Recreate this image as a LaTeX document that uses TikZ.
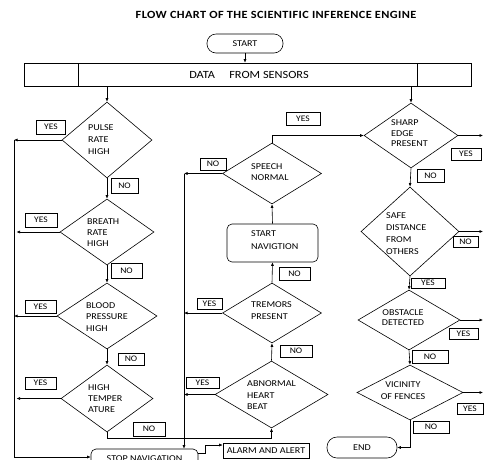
\documentclass[tikz,border=0pt]{standalone}
\usepackage{fontspec}
\setmainfont{Carlito}[FakeStretch=1.12]
\usetikzlibrary{arrows.meta,shapes.geometric}

\tikzset{
  arr/.style={-{Latex[length=3.5pt,width=3pt]}},
  conn/.style={line width=0.6pt},
  dia/.style={draw, diamond, line width=0.6pt, inner sep=0pt},
  lbl/.style={draw, line width=0.6pt, inner sep=0pt, font=\fontsize{8.5}{9}\selectfont},
  dtext/.style={font=\fontsize{9}{#1}\selectfont, align=left, anchor=west, inner sep=0pt},
  ctext/.style={font=\fontsize{9}{#1}\selectfont, align=center, inner sep=0pt},
  term/.style={draw, line width=0.6pt, rounded corners=9pt, inner sep=0pt, font=\fontsize{9}{10}\selectfont},
  procbox/.style={draw, line width=0.6pt, rounded corners=5pt, inner sep=0pt, font=\fontsize{9}{10}\selectfont},
}

\begin{document}
\begin{tikzpicture}[x=1pt, y=-1pt]
\useasboundingbox (0,0) rectangle (484,459);
\clip (0,0) rectangle (484,459);

% title
\node[font=\fontsize{11}{12}\selectfont\bfseries\addfontfeature{LetterSpace=3.5}] (title) at (276,15) {FLOW CHART OF THE SCIENTIFIC INFERENCE ENGINE};

% start and sensor bar
\node[term, minimum width=76, minimum height=19] (start) at (245,43.5) {START};
\node[draw, line width=0.6pt, minimum width=447, minimum height=23, inner sep=0pt] (data) at (247.5,74.5) {};
\draw[line width=0.6pt] (78,63) -- (78,86) (417,63) -- (417,86);
\node[font=\fontsize{11}{12}\selectfont] (datatext) at (249,75) {DATA\hspace{1.3em}FROM SENSORS};

% left column: vital signs
\node[dia, minimum width=90, minimum height=76] (pulse) at (107,140) {};
\node[dtext=12] (pulsetxt) at (88,140) {PULSE\\RATE\\HIGH};
\node[dia, minimum width=94, minimum height=66] (breath) at (107,232) {};
\node[dtext=11] (breathtxt) at (87,233) {BREATH\\RATE\\HIGH};
\node[dia, minimum width=100, minimum height=66] (blood) at (107,316) {};
\node[dtext=11.5] (bloodtxt) at (86,317) {BLOOD\\PRESSURE\\HIGH};
\node[dia, minimum width=92, minimum height=67] (temp) at (107,398.5) {};
\node[dtext=11] (temptxt) at (88,399) {HIGH\\TEMPER\\ATURE};

% middle column
\node[dia, minimum width=99, minimum height=61] (speech) at (272,173.5) {};
\node[dtext=11] (speechtxt) at (251,172.5) {SPEECH\\NORMAL};
\node[procbox, minimum width=91, minimum height=38] (startnav) at (272.5,243) {};
\node[dtext=13] (startnavtxt) at (251,240) {START\\NAVIGTION};
\node[dia, minimum width=99, minimum height=60] (tremors) at (272,313) {};
\node[dtext=12] (tremorstxt) at (251,311) {TREMORS\\PRESENT};
\node[dia, minimum width=113, minimum height=67] (abnormal) at (271.5,394.5) {};
\node[dtext=11.5] (abnormaltxt) at (247,395.5) {ABNORMAL\\HEART\\BEAT};

% right column: surroundings
\node[dia, minimum width=94, minimum height=65] (sharp) at (411,135.5) {};
\node[dtext=10.5] (sharptxt) at (391,133.5) {SHARP\\EDGE\\PRESENT};
\node[dia, minimum width=98, minimum height=89] (safe) at (410,231.5) {};
\node[dtext=12] (safetxt) at (386,234) {SAFE\\DISTANCE\\FROM\\OTHERS};
\node[dia, minimum width=102, minimum height=60] (obst) at (409,320) {};
\node[ctext=10] (obsttxt) at (403,318) {OBSTACLE\\DETECTED};
\node[dia, minimum width=106, minimum height=55] (vic) at (410,392.5) {};
\node[ctext=12] (victxt) at (403,391) {VICINITY\\OF FENCES};

% bottom boxes
\node[procbox, minimum width=107, minimum height=23] (stop) at (144.5,460.5) {};
\node[font=\fontsize{9}{10}\selectfont, inner sep=0pt] (stoptxt) at (144.5,459) {STOP NAVIGATION};
\node[draw, line width=0.6pt, inner sep=0pt, minimum width=86, minimum height=15, font=\fontsize{9}{10}\selectfont] (alarm) at (266,450.5) {ALARM AND ALERT};
\node[term, minimum width=70, minimum height=21, rounded corners=10pt] (end) at (362,447.5) {END};

% answer labels
\node[lbl, minimum width=29, minimum height=14] (y1) at (51,127) {YES};
\node[lbl, minimum width=27, minimum height=15] (n1) at (124.5,185.5) {NO};
\node[lbl, minimum width=32, minimum height=14] (y2) at (41,220) {YES};
\node[lbl, minimum width=31, minimum height=15] (n2) at (126.5,270.5) {NO};
\node[lbl, minimum width=31, minimum height=13] (y3) at (40.5,306.5) {YES};
\node[lbl, minimum width=26, minimum height=12] (n3) at (131,359) {NO};
\node[lbl, minimum width=31, minimum height=12] (y4) at (40.5,383) {YES};
\node[lbl, minimum width=32, minimum height=14] (n4) at (149,429) {NO};
\node[lbl, minimum width=34, minimum height=13] (y5) at (303,118.5) {YES};
\node[lbl, minimum width=26, minimum height=12] (n5) at (213,164) {NO};
\node[lbl, minimum width=31, minimum height=13] (n6) at (294.5,273.5) {NO};
\node[lbl, minimum width=25, minimum height=11] (y6) at (209.5,303.5) {YES};
\node[lbl, minimum width=32, minimum height=12] (n7) at (296,351) {NO};
\node[lbl, minimum width=33, minimum height=11] (y7) at (202.5,382.5) {YES};
\node[lbl, minimum width=30, minimum height=12] (y8) at (466,154) {YES};
\node[lbl, minimum width=27, minimum height=13] (n8) at (430.5,175.5) {NO};
\node[lbl, minimum width=25, minimum height=11] (n9) at (465.5,241.5) {NO};
\node[lbl, minimum width=34, minimum height=10] (y9) at (428,283) {YES};
\node[lbl, minimum width=29, minimum height=11] (y10) at (463.5,334) {YES};
\node[lbl, minimum width=36, minimum height=13] (n10) at (430,356.5) {NO};
\node[lbl, minimum width=26, minimum height=11] (y11) at (470,408.5) {YES};
\node[lbl, minimum width=36, minimum height=12] (n11) at (431,427) {NO};

% helper coordinates
\coordinate (lefttop) at (14,140);
\coordinate (leftbot) at (14,457);
\coordinate (midtop) at (184,173.5);
\coordinate (redge) at (483,0);

% connectors
\begin{scope}[conn]
\draw[arr] (start.south) -- (start.south |- data.north);
\draw[arr] (pulse.north |- data.south) -- (pulse.north);
\draw[arr] (sharp.north |- data.south) -- (sharp.north);

% left column
\draw[arr] (pulse.south) -- (breath.north);
\draw[arr] (breath.south) -- (blood.north);
\draw[arr] (blood.south) -- (temp.north);
\draw (lefttop) -- (leftbot);
\draw[arr] (pulse.west) -- (pulse.west -| lefttop);
\draw[arr] (breath.west) -- ([xshift=2.5pt]breath.west -| lefttop);
\draw[arr] (blood.west) -- (blood.west -| lefttop);
\draw[arr] (temp.west) -- ([xshift=2.5pt]temp.west -| lefttop);
\draw[arr] (leftbot) -- (leftbot -| stop.west);
\draw[arr] (temp.south) -- ++(0,6) -| (abnormal.south);

% middle column
\draw[arr] (abnormal.north) -- (tremors.south);
\draw[arr] (tremors.north) -- (startnav.south);
\draw[arr] (startnav.north) -- (speech.south);
\draw[arr] (speech.north) |- (sharp.west);
\draw[arr] (speech.west) -- (midtop);
\draw[arr] (tremors.west) -- (tremors.west -| midtop);
\draw[arr] (abnormal.west) -- (abnormal.west -| midtop);
\draw[arr] (midtop) -- (midtop |- stop.north);
\draw[arr] (stop.east |- 0,453) -- (205,453) |- ([yshift=5.5pt]alarm.west);

% right column
\draw[arr] (sharp.south) -- (safe.north);
\draw[arr] (safe.south) -- (obst.north);
\draw[arr] (obst.south) -- (vic.north);
\draw[arr] (vic.south) |- (end.east);
\draw[arr] (sharp.east) -- (sharp.east -| redge);
\draw[arr] (safe.east) -- (safe.east -| redge);
\draw[arr] (obst.east) -- (obst.east -| redge);
\draw[arr] (vic.east) -- (vic.east -| redge);
\end{scope}
\end{tikzpicture}
\end{document}
